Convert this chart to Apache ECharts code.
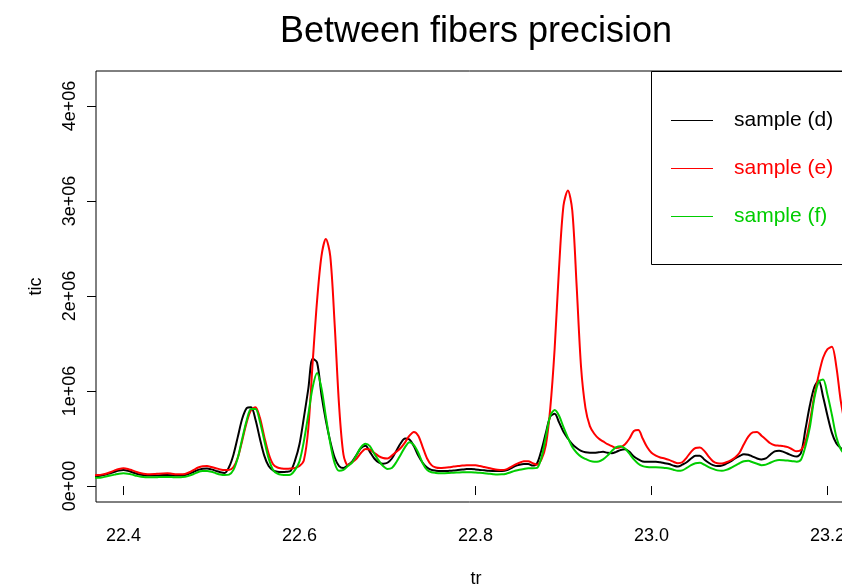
<!DOCTYPE html>
<html><head><meta charset="utf-8">
<script src="https://cdn.jsdelivr.net/npm/echarts@6/dist/echarts.min.js"></script>
<style>html,body{margin:0;padding:0;background:#fff}#c{width:842px;height:587px}</style>
</head><body><div id="c"></div>
<script>
// retention time (tr)
const retentionTimes = [
22.365,22.370,22.375,22.380,22.385,22.390,22.395,22.400,22.405,22.410,
22.415,22.420,22.425,22.430,22.435,22.440,22.445,22.450,22.455,22.460,
22.465,22.470,22.475,22.480,22.485,22.490,22.495,22.500,22.505,22.510,
22.515,22.520,22.525,22.530,22.535,22.540,22.545,22.550,22.555,22.560,
22.565,22.570,22.575,22.580,22.585,22.590,22.595,22.600,22.605,22.610,
22.615,22.620,22.625,22.630,22.635,22.640,22.645,22.650,22.655,22.660,
22.665,22.670,22.675,22.680,22.685,22.690,22.695,22.700,22.705,22.710,
22.715,22.720,22.725,22.730,22.735,22.740,22.745,22.750,22.755,22.760,
22.765,22.770,22.775,22.780,22.785,22.790,22.795,22.800,22.805,22.810,
22.815,22.820,22.825,22.830,22.835,22.840,22.845,22.850,22.855,22.860,
22.865,22.870,22.875,22.880,22.885,22.890,22.895,22.900,22.905,22.910,
22.915,22.920,22.925,22.930,22.935,22.940,22.945,22.950,22.955,22.960,
22.965,22.970,22.975,22.980,22.985,22.990,22.995,23.000,23.005,23.010,
23.015,23.020,23.025,23.030,23.035,23.040,23.045,23.050,23.055,23.060,
23.065,23.070,23.075,23.080,23.085,23.090,23.095,23.100,23.105,23.110,
23.115,23.120,23.125,23.130,23.135,23.140,23.145,23.150,23.155,23.160,
23.165,23.170,23.175,23.180,23.185,23.190,23.195,23.200,23.205,23.210,
23.215,23.220];

// tic values, in millions
const sampleD = [
0.10,0.105,0.11,0.12,0.135,0.15,0.163,0.168,0.16,0.145,
0.13,0.118,0.112,0.11,0.11,0.112,0.115,0.115,0.113,0.11,
0.11,0.115,0.13,0.15,0.17,0.183,0.185,0.175,0.16,0.145,
0.137,0.20,0.33,0.52,0.71,0.82,0.83,0.70,0.50,0.32,
0.21,0.165,0.15,0.148,0.15,0.16,0.27,0.44,0.72,1.02,
1.34,1.30,0.96,0.69,0.47,0.30,0.21,0.19,0.22,0.26,
0.33,0.40,0.425,0.36,0.29,0.25,0.235,0.245,0.29,0.37,
0.45,0.50,0.49,0.42,0.32,0.245,0.195,0.17,0.162,0.158,
0.158,0.16,0.163,0.168,0.173,0.178,0.178,0.175,0.17,0.165,
0.16,0.158,0.157,0.158,0.165,0.185,0.21,0.225,0.232,0.232,
0.215,0.24,0.38,0.56,0.73,0.76,0.67,0.57,0.50,0.44,
0.40,0.37,0.355,0.35,0.35,0.355,0.36,0.35,0.345,0.36,
0.38,0.386,0.36,0.31,0.28,0.258,0.255,0.256,0.256,0.25,
0.24,0.232,0.215,0.205,0.225,0.25,0.29,0.32,0.32,0.28,
0.245,0.22,0.21,0.215,0.235,0.26,0.29,0.315,0.335,0.33,
0.31,0.29,0.28,0.29,0.33,0.365,0.372,0.36,0.34,0.32,
0.31,0.35,0.60,0.85,1.04,1.11,0.94,0.74,0.56,0.45,
0.40,0.37];

const sampleE = [
0.11,0.115,0.12,0.13,0.145,0.165,0.18,0.186,0.18,0.165,
0.148,0.135,0.127,0.125,0.126,0.13,0.133,0.134,0.13,0.125,
0.123,0.128,0.145,0.17,0.195,0.208,0.21,0.20,0.188,0.175,
0.168,0.17,0.20,0.30,0.48,0.67,0.80,0.83,0.72,0.52,
0.34,0.23,0.195,0.185,0.183,0.185,0.19,0.21,0.27,0.60,
1.30,1.95,2.42,2.60,2.42,1.70,0.85,0.33,0.22,0.25,
0.29,0.35,0.39,0.385,0.35,0.315,0.295,0.29,0.32,0.36,
0.40,0.46,0.53,0.57,0.53,0.41,0.29,0.22,0.195,0.19,
0.193,0.198,0.205,0.21,0.215,0.218,0.22,0.218,0.21,0.20,
0.19,0.18,0.172,0.168,0.175,0.20,0.225,0.245,0.26,0.262,
0.24,0.225,0.28,0.43,0.82,1.45,2.30,2.95,3.11,2.90,
2.10,1.25,0.82,0.63,0.55,0.50,0.47,0.44,0.42,0.40,
0.41,0.44,0.50,0.58,0.59,0.50,0.41,0.35,0.32,0.30,
0.29,0.275,0.255,0.24,0.25,0.30,0.36,0.40,0.405,0.37,
0.31,0.26,0.24,0.238,0.25,0.27,0.30,0.35,0.44,0.52,
0.565,0.57,0.53,0.49,0.45,0.43,0.425,0.42,0.41,0.385,
0.365,0.38,0.47,0.68,0.95,1.17,1.35,1.44,1.466,1.26,
0.90,0.65];

const sampleF = [
0.085,0.087,0.09,0.10,0.11,0.12,0.13,0.134,0.13,0.12,
0.107,0.098,0.093,0.092,0.092,0.094,0.096,0.096,0.094,0.092,
0.092,0.097,0.11,0.128,0.148,0.157,0.158,0.15,0.135,0.122,
0.116,0.12,0.17,0.30,0.50,0.69,0.81,0.81,0.68,0.48,
0.29,0.17,0.13,0.118,0.115,0.12,0.17,0.26,0.47,0.75,
1.04,1.19,1.03,0.73,0.45,0.24,0.16,0.17,0.21,0.25,
0.33,0.41,0.445,0.42,0.34,0.27,0.21,0.18,0.19,0.25,
0.33,0.41,0.46,0.43,0.35,0.24,0.17,0.145,0.138,0.135,
0.135,0.137,0.14,0.142,0.144,0.145,0.145,0.143,0.14,0.135,
0.13,0.125,0.122,0.123,0.13,0.145,0.16,0.172,0.18,0.186,
0.186,0.19,0.30,0.52,0.74,0.80,0.74,0.62,0.51,0.41,
0.35,0.31,0.285,0.265,0.256,0.258,0.28,0.32,0.37,0.41,
0.42,0.395,0.34,0.28,0.235,0.21,0.20,0.197,0.197,0.195,
0.19,0.185,0.172,0.16,0.165,0.19,0.22,0.24,0.245,0.225,
0.20,0.18,0.165,0.16,0.17,0.19,0.215,0.24,0.26,0.265,
0.25,0.235,0.22,0.225,0.245,0.265,0.274,0.272,0.268,0.262,
0.256,0.28,0.42,0.62,0.92,1.10,1.12,0.96,0.75,0.52,
0.39,0.33];

const seriesNames = ['sample (d)', 'sample (e)', 'sample (f)'];
const seriesColors = ['#000000', '#FF0000', '#00CD00'];
const xTicks = [22.4, 22.6, 22.8, 23.0, 23.2];
const xTickLabels = ['22.4', '22.6', '22.8', '23.0', '23.2'];
const yTicks = [0, 1, 2, 3, 4];
const yTickLabels = ['0e+00', '1e+06', '2e+06', '3e+06', '4e+06'];

const FONT = 'Liberation Sans, Arial, Helvetica, sans-serif';
const allSeries = [sampleD, sampleE, sampleF];

const chart = echarts.init(document.getElementById('c'), null, {renderer: 'canvas'});
chart.setOption({
  animation: false,
  backgroundColor: '#ffffff',
  title: {
    text: 'Between fibers precision',
    left: 471, top: 9, textAlign: 'center',
    textStyle: {fontSize: 36, fontWeight: 'normal', color: '#000', fontFamily: FONT}
  },
  grid: {left: 96, top: 71, width: 760, height: 431, show: true, borderColor: '#000', borderWidth: 1,
    backgroundColor: 'transparent', outerBoundsMode: 'none', containLabel: false},
  legend: {
    orient: 'vertical', left: 671, top: 110, padding: 0,
    itemWidth: 42, itemHeight: 1, icon: 'rect', itemGap: 27,
    selectedMode: false,
    textStyle: {fontSize: 21, fontFamily: FONT, padding: [0, 0, 0, 16]},
    data: seriesNames.map((n, i) => ({name: n, textStyle: {color: seriesColors[i]}}))
  },
  xAxis: {
    type: 'value', min: 22.3688, max: 23.2324,
    name: 'tr', nameLocation: 'middle', nameGap: 68,
    nameTextStyle: {fontSize: 18, color: '#000', fontFamily: FONT},
    axisLine: {show: false},
    axisTick: {show: true, length: 9, customValues: xTicks, lineStyle: {color: '#000', width: 1}},
    axisLabel: {customValues: xTicks, margin: 25, fontSize: 18, color: '#000', fontFamily: FONT,
      formatter: v => xTickLabels[xTicks.findIndex(t => Math.abs(t - v) < 1e-6)]},
    splitLine: {show: false}
  },
  yAxis: {
    type: 'value', min: -0.168, max: 4.368,
    name: 'tic', nameLocation: 'middle', nameGap: 51, nameRotate: 90,
    nameTextStyle: {fontSize: 18, color: '#000', fontFamily: FONT},
    axisLine: {show: false},
    axisTick: {show: true, length: 9, customValues: yTicks, lineStyle: {color: '#000', width: 1}},
    axisLabel: {customValues: yTicks, rotate: 90, margin: 17, fontSize: 18, color: '#000', fontFamily: FONT,
      formatter: v => yTickLabels[yTicks.findIndex(t => Math.abs(t - v) < 1e-6)]},
    splitLine: {show: false}
  },
  graphic: [{
    type: 'rect', shape: {x: 651.5, y: 71.5, width: 260, height: 193},
    style: {fill: 'none', stroke: '#000', lineWidth: 1}, z: 100
  }],
  series: allSeries.map((vals, i) => ({
    name: seriesNames[i], type: 'line', showSymbol: false, smooth: 0.3,
    color: seriesColors[i],
    lineStyle: {color: seriesColors[i], width: 2},
    data: retentionTimes.map((t, k) => [t, vals[k]])
  }))
});
</script></body></html>
